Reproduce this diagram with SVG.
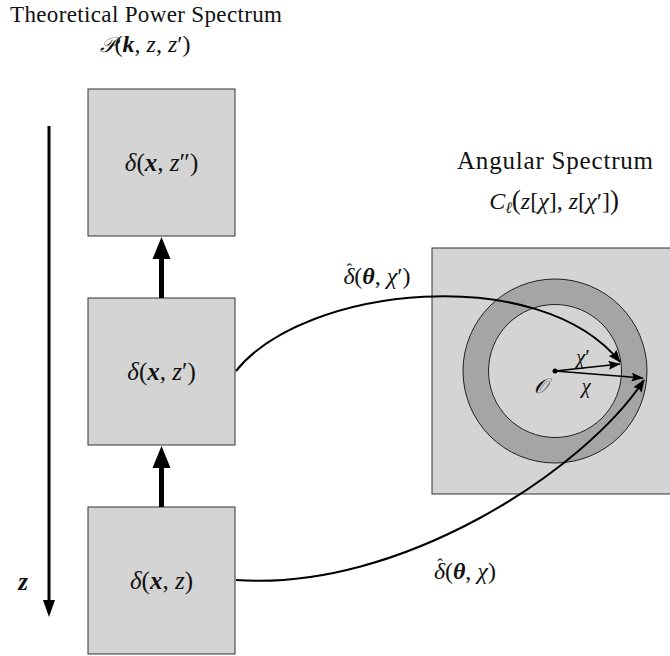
<svg xmlns="http://www.w3.org/2000/svg" width="670" height="656" viewBox="0 0 670 656" font-family="'Liberation Serif', 'Times New Roman', 'DejaVu Serif', serif">
<style>
text{font-family:"Liberation Serif","Times New Roman","DejaVu Serif",serif;fill:#111;}
.t{font-size:23px;text-anchor:middle;}
.a{font-size:25px;text-anchor:middle;}
.m{font-size:25px;text-anchor:middle;}
.l{font-size:24px;text-anchor:middle;}
.s{font-size:21px;text-anchor:middle;}
.i{font-style:italic;}
.b{font-style:italic;font-weight:bold;}
.box{fill:#d4d4d4;stroke:#333;stroke-width:1;}
.curve{fill:none;stroke:#000;stroke-width:2;marker-end:url(#ah);}
.rad{fill:none;stroke:#000;stroke-width:1.4;marker-end:url(#ahs);}
</style>
<defs>
<marker id="ah" markerUnits="userSpaceOnUse" viewBox="0 0 13 10" markerWidth="13" markerHeight="10" refX="12" refY="5" orient="auto"><path d="M0,0 L13,5 L0,10 L2,5 Z" fill="#000"/></marker>
<marker id="ahs" markerUnits="userSpaceOnUse" viewBox="0 0 12 9" markerWidth="12" markerHeight="9" refX="11.5" refY="4.5" orient="auto"><path d="M0,0 L12,4.5 L0,9 L2,4.5 Z" fill="#000"/></marker>
</defs>

<g id="title-power">
<text class="t" x="146" y="22" textLength="272" lengthAdjust="spacing">Theoretical Power Spectrum</text>
<text class="l" x="145" y="52"><tspan font-family="DejaVu Serif" class="i" font-size="21">𝒫</tspan>(<tspan class="b">k</tspan>, <tspan class="i">z</tspan>, <tspan class="i">z</tspan>′)</text>
</g>

<g id="node-z2">
<rect class="box" x="88" y="89" width="147" height="147"/>
<text class="m" x="161.5" y="171"><tspan class="i">δ</tspan>(<tspan class="b">x</tspan>, <tspan class="i">z</tspan>″)</text>
</g>

<g id="node-z1">
<rect class="box" x="88" y="298" width="147" height="147"/>
<text class="m" x="161.5" y="380"><tspan class="i">δ</tspan>(<tspan class="b">x</tspan>, <tspan class="i">z</tspan>′)</text>
</g>

<g id="node-z0">
<rect class="box" x="88" y="507" width="147" height="147"/>
<text class="m" x="161.5" y="589"><tspan class="i">δ</tspan>(<tspan class="b">x</tspan>, <tspan class="i">z</tspan>)</text>
</g>

<g id="z-axis">
<line x1="49" y1="126" x2="49" y2="603" stroke="#000" stroke-width="3"/>
<polygon points="43,600 55,600 49,617" fill="#000"/>
<text class="m b" x="23" y="590">z</text>
</g>

<g id="node-angular">
<text class="a" x="555" y="169" textLength="196" lengthAdjust="spacing">Angular Spectrum</text>
<text class="l" x="554" y="209"><tspan class="i">C</tspan><tspan class="i" font-size="16" dy="4">ℓ</tspan><tspan dy="-4" font-size="27">(</tspan><tspan class="i">z</tspan>[<tspan class="i">χ</tspan>], <tspan class="i">z</tspan>[<tspan class="i">χ</tspan>′]<tspan font-size="27">)</tspan></text>
<rect class="box" x="432" y="248" width="246" height="246"/>
<circle cx="555" cy="371" r="92" fill="#a5a5a5" stroke="#222" stroke-width="1"/>
<circle cx="555" cy="371" r="66.5" fill="#d4d4d4" stroke="#222" stroke-width="1"/>
<circle cx="555" cy="371" r="2.5" fill="#000"/>
<line class="rad" x1="555" y1="371" x2="620" y2="364"/>
<line class="rad" x1="555" y1="371" x2="643" y2="378"/>
<text class="s" x="583" y="364"><tspan class="i">χ</tspan>′</text>
<text class="s" x="586" y="393"><tspan class="i">χ</tspan></text>
<text class="l" x="540" y="393"><tspan font-family="DejaVu Serif" class="i" font-size="21">𝒪</tspan></text>
</g>

<g id="connectors">
<rect x="159" y="256" width="5" height="42" fill="#000"/>
<polygon points="152.5,259 170.5,259 161.5,237" fill="#000"/>
<rect x="159" y="465" width="5" height="42" fill="#000"/>
<polygon points="152.5,468 170.5,468 161.5,446" fill="#000"/>
<path class="curve" d="M236,371 C305,285 540,262 620,362"/>
<path class="curve" d="M236,580 C400,592 585,470 644,380"/>
<text class="l" x="377" y="284"><tspan class="i">δ</tspan><tspan font-size="17" dx="-8" dy="-9">ˆ</tspan><tspan dx="2" dy="9">(</tspan><tspan class="b">θ</tspan>, <tspan class="i">χ</tspan>′)</text>
<text class="l" x="465" y="579"><tspan class="i">δ</tspan><tspan font-size="17" dx="-8" dy="-9">ˆ</tspan><tspan dx="2" dy="9">(</tspan><tspan class="b">θ</tspan>, <tspan class="i">χ</tspan>)</text>
</g>
</svg>
